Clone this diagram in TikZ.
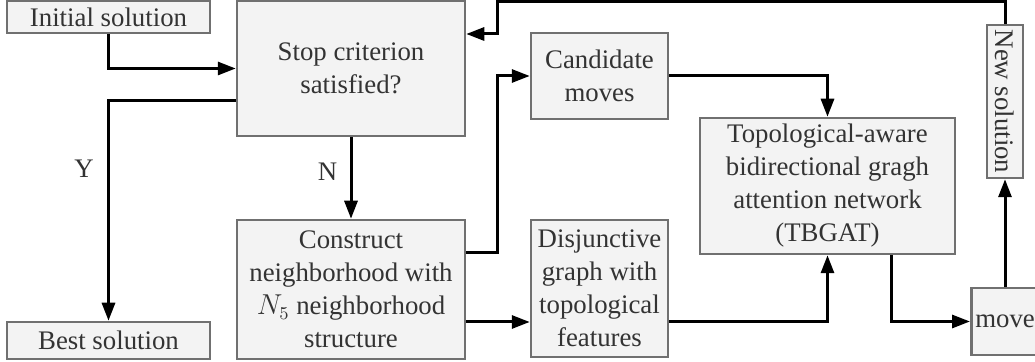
\documentclass[tikz,border=0pt]{standalone}
\usepackage{fontspec}
\setmainfont{Liberation Serif}
\usetikzlibrary{arrows.meta}
\definecolor{boxfill}{HTML}{F3F3F3}
\definecolor{boxline}{HTML}{707070}
\definecolor{txt}{HTML}{333333}
\begin{document}
\begin{tikzpicture}[x=0.5pt,y=-0.5pt,
    box/.style={draw=boxline, fill=boxfill, line width=1.25pt, inner sep=1pt,
        align=center, text=txt, font=\fontsize{13.4}{16.5}\selectfont},
    flow/.style={line width=1.5pt, -{Triangle[length=9pt,width=6.5pt]}},
    lbl/.style={text=txt, font=\fontsize{13.4}{16.5}\selectfont}]
    \useasboundingbox (0,0) rectangle (1035,362);
    \node[box, minimum width=101.5pt, minimum height=16pt] (init) at (108.5,17) {Initial solution};
    \node[box, minimum width=114pt, minimum height=67.5pt] (stop) at (351,68.5) {Stop criterion\\satisfied?};
    \node[box, minimum width=101.5pt, minimum height=18.5pt] (best) at (108.5,340.5) {Best solution};
    \node[box, minimum width=114pt, minimum height=69.5pt] (constr) at (351,289.5) {Construct\\neighborhood with\\$N_5$ neighborhood\\structure};
    \node[box, minimum width=68.5pt, minimum height=43pt] (cand) at (599.5,76) {Candidate\\moves};
    \node[box, minimum width=68.5pt, minimum height=68.5pt] (disj) at (599.5,288.5) {Disjunctive\\graph with\\topological\\features};
    \node[box, minimum width=127.5pt, minimum height=68pt] (tbgat) at (827.5,186) {Topological-aware\\bidirectional gragh\\attention network\\(TBGAT)};
    % rotated: west is the top end, east the bottom end
    \node[box, rotate=-90, minimum width=76.5pt, minimum height=18pt] (newsol) at (1005,101.5) {New solution};
    \node[box, anchor=west, minimum width=60pt, minimum height=33.5pt, text width=56pt, align=left, inner sep=2pt] (move) at (970,321.5) {move};
    \node[lbl] (yes) at (84,169) {Y};
    \node[lbl] (no) at (327.5,171.5) {N};

    \draw[flow] (init.south) |- (stop.west);
    \draw[flow] (stop.west |- 0,101) -| (best.north);
    \draw[flow] (stop.south) -- (constr.north);
    \draw[flow] (constr.east |- 0,253) -| (497,76) -- (cand.west);
    \draw[flow] (constr.east |- 0,322) -- (disj.west |- 0,322);
    \draw[flow] (disj.east |- 0,322) -| (tbgat.south);
    \draw[flow] (cand.east) -| (tbgat.north);
    \draw[flow] (tbgat.south -| 891,0) |- (move.west);
    \draw[flow] (move.north -| newsol.east) -- (newsol.east);
    \draw[flow] (newsol.west) |- (497,2) -- (497,34) -- (stop.east |- 0,34);
\end{tikzpicture}
\end{document}
